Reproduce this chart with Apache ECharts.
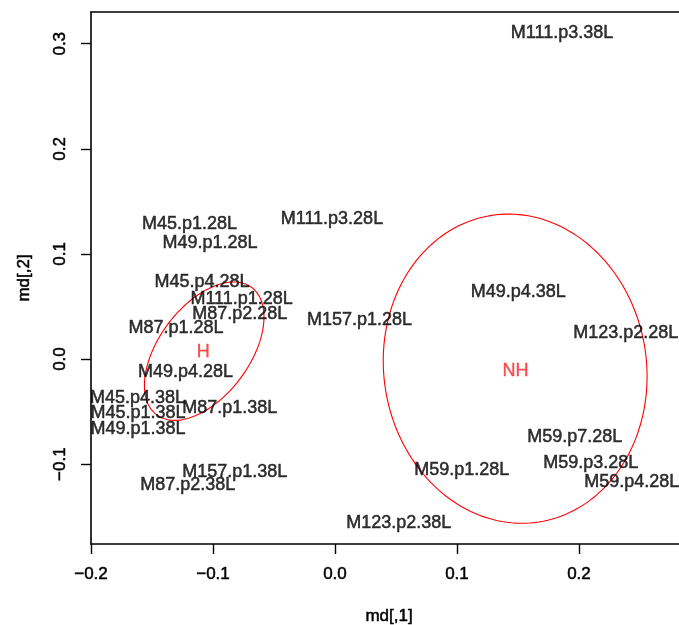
<!DOCTYPE html>
<html>
<head>
<meta charset="utf-8">
<script src="https://cdn.jsdelivr.net/npm/echarts@6/dist/echarts.min.js"></script>
<style>
html,body{margin:0;padding:0;background:#fff;}
#chart{width:679px;height:625px;}
</style>
</head>
<body>
<div id="chart"></div>
<script>
// ---- data ----
var sampleNames = ["M111.p3.38L","M45.p1.28L","M49.p1.28L","M111.p3.28L","M45.p4.28L","M111.p1.28L","M87.p2.28L","M157.p1.28L","M87.p1.28L","M49.p4.28L","M45.p4.38L","M45.p1.38L","M49.p1.38L","M87.p1.38L","M157.p1.38L","M87.p2.38L","M49.p4.38L","M123.p2.28L","M59.p7.28L","M59.p3.28L","M59.p1.28L","M59.p4.28L","M123.p2.38L"];
var md1 = [0.1861,-0.1193,-0.1025,-0.0025,-0.1090,-0.0765,-0.0781,0.0201,-0.1303,-0.1225,-0.1619,-0.1615,-0.1615,-0.0863,-0.0822,-0.1207,0.1502,0.2384,0.1965,0.2097,0.1039,0.2432,0.0523];
var md2 = [0.3114,0.1291,0.1110,0.1339,0.0742,0.0583,0.0433,0.0385,0.0309,-0.0116,-0.0364,-0.0507,-0.0654,-0.0460,-0.1063,-0.1189,0.0645,0.0254,-0.0728,-0.0983,-0.1047,-0.1161,-0.1548];

var groupNames = ["H","NH"];
var groupX = [-0.108, 0.148];
var groupY = [0.0076, -0.0105];

// ellipse: centre and two conjugate semi-axis vectors (data units)
var ellCx = [-0.1072, 0.1477];
var ellCy = [0.0075, -0.0092];
var ellUx = [0.03892, 0.01936];
var ellUy = [0.06062, -0.14586];
var ellVx = [0.02977, 0.1064];
var ellVy = [-0.02571, 0.01903];

var xTicks = [-0.2,-0.1,0.0,0.1,0.2];
var yTicks = [-0.1,0.0,0.1,0.2,0.3];

// ---- chart ----
var FONT = '"Liberation Sans", Arial, sans-serif';
var chart = echarts.init(document.getElementById('chart'), null, {renderer:'canvas'});

function fmt(v){ var s = (Math.round(v*10)/10).toFixed(1); return s.replace('-', '\u2212'); }

var XMIN = -0.2, XMAX = 0.282, YMIN = -0.176, YMAX = 0.3302;
var txt = {color:'#000', fontFamily: FONT, textBorderColor:'#000', textBorderWidth:0.5};

var option = {
  backgroundColor: '#ffffff',
  animation: false,
  grid: {left: 91, top: 12, right: 0, bottom: 81, show: false, outerBoundsMode: 'none', containLabel: false},
  xAxis: [{
    type: 'value', min: XMIN, max: XMAX, position: 'bottom',
    splitLine: {show:false},
    axisLine: {show:true, onZero:false, lineStyle:{color:'#000', width:1.6}},
    axisTick: {show:true, length:10, inside:false, lineStyle:{color:'#000', width:1.4}, customValues: xTicks},
    axisLabel: Object.assign({show:true, margin: 22, fontSize: 17, customValues: xTicks, formatter: fmt}, txt),
    name: 'md[,1]', nameLocation: 'middle', nameGap: 64,
    nameTextStyle: Object.assign({fontSize: 17, padding:[0,0,0,8]}, txt)
  },{
    type: 'value', min: XMIN, max: XMAX, position: 'top',
    splitLine: {show:false},
    axisLine: {show:true, onZero:false, lineStyle:{color:'#000', width:1.6}},
    axisTick: {show:false}, axisLabel: {show:false}
  }],
  yAxis: {
    type: 'value', min: YMIN, max: YMAX, position: 'left',
    splitLine: {show:false},
    axisLine: {show:true, onZero:false, lineStyle:{color:'#000', width:1.6}},
    axisTick: {show:true, length:10, inside:false, lineStyle:{color:'#000', width:1.4}, customValues: yTicks},
    axisLabel: Object.assign({show:true, margin: 22, rotate: 90, fontSize: 17, customValues: yTicks, formatter: fmt}, txt),
    name: 'md[,2]', nameLocation: 'middle', nameGap: 58, nameRotate: 90,
    nameTextStyle: Object.assign({fontSize: 17}, txt)
  },
  series: [
    {
      type: 'custom',
      coordinateSystem: 'cartesian2d',
      silent: true,
      clip: true,
      data: ellCx.map(function(c,i){ return [ellCx[i], ellCy[i]]; }),
      renderItem: function(params, api){
        var i = params.dataIndex;
        var pts = [];
        var n = 180;
        for (var k = 0; k <= n; k++) {
          var t = 2*Math.PI*k/n;
          var x = ellCx[i] + ellUx[i]*Math.cos(t) + ellVx[i]*Math.sin(t);
          var y = ellCy[i] + ellUy[i]*Math.cos(t) + ellVy[i]*Math.sin(t);
          pts.push(api.coord([x, y]));
        }
        return {type:'polyline', shape:{points: pts}, style:{stroke:'#ff0000', lineWidth:1.1, fill:null}};
      },
      z: 2
    },
    {
      type: 'scatter',
      symbolSize: 0,
      silent: true,
      data: sampleNames.map(function(n,i){ return {name:n, value:[md1[i], md2[i]]}; }),
      label: Object.assign({show:true, position:'inside', offset:[0,1], formatter: function(p){ return p.name; }, fontSize: 18}, txt),
      z: 3
    },
    {
      type: 'scatter',
      symbolSize: 0,
      silent: true,
      data: groupNames.map(function(n,i){ return {name:n, value:[groupX[i], groupY[i]]}; }),
      label: {show:true, position:'inside', offset:[0,1], formatter: function(p){ return p.name; }, color:'#ff2020', fontFamily: FONT, fontSize: 18, textBorderColor:'#ff2020', textBorderWidth:0.3},
      z: 3
    }
  ]
};
chart.setOption(option);
</script>
</body>
</html>
